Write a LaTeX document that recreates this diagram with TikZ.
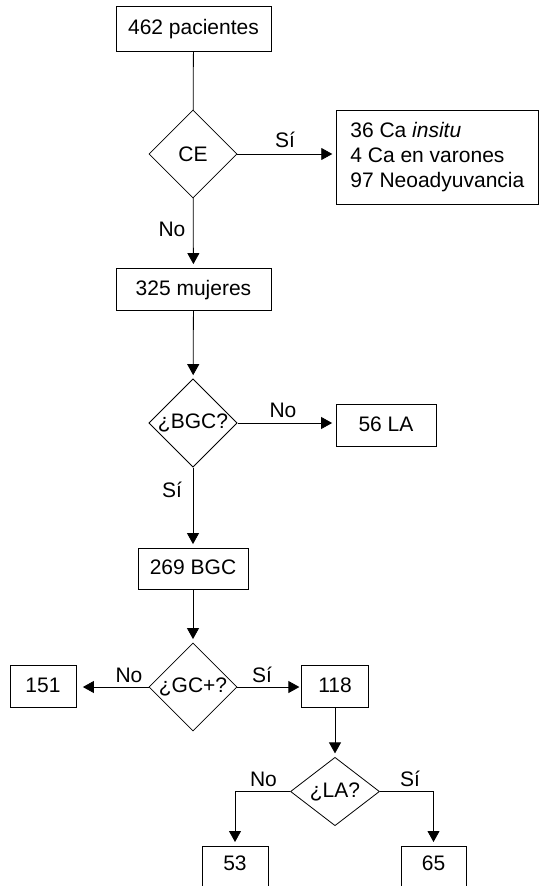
\documentclass[tikz,border=0pt]{standalone}
\usepackage{fontspec}
\setmainfont{Liberation Sans}
\usetikzlibrary{shapes.geometric,arrows.meta}
\begin{document}
\begin{tikzpicture}[x=1pt,y=-1pt,
  every node/.style={font=\fontsize{21}{25}\selectfont},
  box/.style={draw, line width=0.8pt, inner sep=0pt, text height=15pt, text depth=3pt},
  bigbox/.style={draw, line width=0.8pt, inner sep=0pt, align=left},
  dec/.style={draw, diamond, line width=0.8pt, inner sep=0pt},
  conn/.style={line width=0.8pt},
  arr/.style={conn, -{Triangle[length=11pt,width=12pt]}, shorten >=3.5pt},
  lbl/.style={inner sep=0pt}]
\useasboundingbox (0,0) rectangle (539,886);
\clip (0,0) rectangle (539,886);

\node[box, minimum width=155pt, minimum height=45pt] (b1) at (193.5,28.5) {462 pacientes};
\node[dec, minimum width=88pt, minimum height=88pt] (d1) at (193,154) {CE};
\node[bigbox, minimum width=201.3pt, minimum height=93.3pt] (b2) at (437.35,157.5)
  {36 Ca \textit{insitu}\\4 Ca en varones\\97 Neoadyuvancia};
\node[box, minimum width=155pt, minimum height=42pt] (b3) at (193.5,289) {325 mujeres};
\node[dec, minimum width=88pt, minimum height=88pt] (d2) at (193,423) {¿BGC?};
\node[box, minimum width=100pt, minimum height=42pt] (b4) at (386,425) {56 LA};
\node[box, minimum width=110pt, minimum height=41pt] (b5) at (193,568.5) {269 BGC};
\node[dec, minimum width=88pt, minimum height=88pt] (d3) at (193,687) {¿GC+?};
\node[box, minimum width=66pt, minimum height=42pt] (b6) at (43,686) {151};
\node[box, minimum width=66.5pt, minimum height=42pt] (b7) at (335,686) {118};
\node[dec, minimum width=89pt, minimum height=66pt] (d4) at (335,791.5) {¿LA?};
\node[box, minimum width=66pt, anchor=north, inner ysep=9pt, text depth=40pt] (b8) at (235,846) {53};
\node[box, minimum width=65pt, anchor=north, inner ysep=9pt, text depth=40pt] (b9) at (433.5,846) {65};

\draw[conn] (b1) -- (d1);
\draw[arr, shorten >=4pt] (d1.east) -- (d1.east -| b2.west);
\node[lbl] (l1) at (285,140) {Sí};
\draw[arr] (d1) -- (b3);
\node[lbl] (l2) at (172,229) {No};
\draw[arr] (b3) -- (d2);
\draw[arr] (d2.east) -- (d2.east -| b4.west);
\node[lbl] (l3) at (283,410) {No};
\draw[arr] (d2) -- (b5);
\node[lbl] (l4) at (172,490) {Sí};
\draw[arr] (b5) -- (d3);
\draw[arr, shorten >=6.5pt] (d3.west) -- (d3.west -| b6.east);
\node[lbl] (l5) at (129,675.5) {No};
\draw[arr, shorten >=2pt] (d3.east) -- (d3.east -| b7.west);
\node[lbl] (l6) at (262,675) {Sí};
\draw[arr] (b7) -- (d4);
\draw[arr, shorten >=4pt] (d4.west) -| (b8.north);
\node[lbl] (l7) at (263.5,779) {No};
\draw[arr, shorten >=4pt] (d4.east) -| (b9.north);
\node[lbl] (l8) at (410,779) {Sí};
\end{tikzpicture}
\end{document}
